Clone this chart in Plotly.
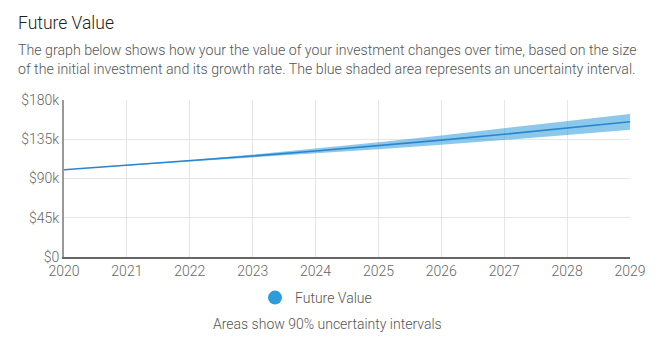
import plotly.graph_objects as go

years = [2020, 2021, 2022, 2023, 2024, 2025, 2026, 2027, 2028, 2029]
median = [100.0, 105.0, 110.2, 115.8, 121.5, 127.6, 134.0, 140.7, 147.7, 155.1]
lower = [100.0, 104.6, 109.4, 114.2, 118.9, 123.6, 128.6, 134.0, 139.8, 146.0]
upper = [100.0, 105.4, 111.0, 117.4, 124.2, 131.6, 139.4, 147.5, 155.8, 164.0]
ytick_vals = [0, 45, 90, 135, 180]
ytick_text = ["$0", "$45k", "$90k", "$135k", "$180k"]
subtitle_lines = [
    "The graph below shows how your the value of your investment changes over time, based on the size",
    "of the initial investment and its growth rate. The blue shaded area represents an uncertainty interval.",
]

BLUE = "#2e9bdb"
LINE = "#2a86cc"
FONT = "Roboto"
W = 300

PW = 566.0
PH = 157.0

fig = go.Figure()
fig.add_trace(go.Scatter(x=years, y=upper, mode="lines", line=dict(width=0),
                         showlegend=False, hoverinfo="skip"))
fig.add_trace(go.Scatter(x=years, y=lower, mode="lines", line=dict(width=0),
                         fill="tonexty", fillcolor="rgba(46,155,219,0.55)",
                         showlegend=False, hoverinfo="skip"))
fig.add_trace(go.Scatter(x=years, y=median, mode="lines",
                         line=dict(color=LINE, width=1.6), showlegend=False))
fig.add_trace(go.Scatter(x=[None], y=[None], mode="markers", name="Future Value",
                         marker=dict(color=BLUE, size=14, symbol="circle")))

annotations = [
    dict(text="Future Value", xref="paper", yref="paper", x=(16 - 64) / PW, y=1 + (100 - 23) / PH,
         xanchor="left", yanchor="middle", showarrow=False,
         font=dict(size=17.5, color="#222", family=FONT, weight=W)),
    dict(text="Areas show 90% uncertainty intervals", xref="paper", yref="paper",
         x=(327 - 64) / PW, y=(257 - 324) / PH, xanchor="center", yanchor="middle", showarrow=False,
         font=dict(size=14, color="#555", family=FONT, weight=W)),
]
for i, line in enumerate(subtitle_lines):
    annotations.append(dict(text=line, xref="paper", yref="paper", x=(16 - 64) / PW,
                            y=1 + (100 - (50 + 19.5 * i)) / PH, align="left",
                            xanchor="left", yanchor="middle", showarrow=False,
                            font=dict(size=14.2, color="#555", family=FONT, weight=W)))

fig.update_layout(
    width=662, height=353,
    margin=dict(l=64, r=32, t=100, b=96),
    paper_bgcolor="white", plot_bgcolor="white",
    font=dict(family=FONT, size=14, color="#666", weight=W),
    showlegend=True,
    legend=dict(orientation="h", x=(316 - 64) / PW, xanchor="center",
                y=(257 - 298) / PH, yanchor="middle", bgcolor="rgba(0,0,0,0)",
                font=dict(size=14, color="#555", weight=W), itemwidth=30),
    xaxis=dict(range=[2020, 2029], tickvals=years, ticktext=[str(y) for y in years],
               showgrid=True, gridcolor="#e6e6e6", gridwidth=1,
               showline=True, linecolor="#666", linewidth=1.5,
               ticks="", zeroline=False, tickfont=dict(size=14, color="#666", weight=W)),
    yaxis=dict(range=[0, 180], tickvals=ytick_vals, ticktext=ytick_text,
               showgrid=True, gridcolor="#e6e6e6", gridwidth=1,
               showline=True, linecolor="#999", linewidth=2,
               ticks="", zeroline=False, tickfont=dict(size=14, color="#666", weight=W)),
    annotations=annotations,
)

fig.write_html("out.html")
